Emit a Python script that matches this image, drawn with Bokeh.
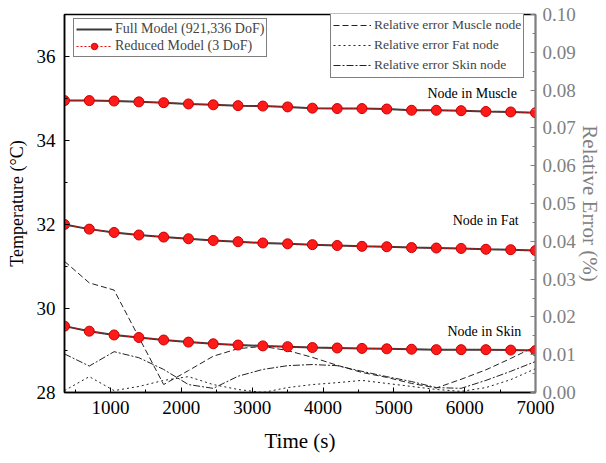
from bokeh.plotting import figure
from bokeh.models import (Range1d, LinearAxis, SingleIntervalTicker,
                          NumeralTickFormatter, Legend, LegendItem, Label)
from bokeh.embed import file_html
from bokeh.resources import INLINE

# ---------------- data ----------------
time_s = [350, 700, 1050, 1400, 1750, 2100, 2450, 2800, 3150, 3500,
          3850, 4200, 4550, 4900, 5250, 5600, 5950, 6300, 6650, 7000]

full_muscle = [34.95, 34.95, 34.94, 34.92, 34.90, 34.87, 34.85, 34.83, 34.82, 34.80,
               34.77, 34.76, 34.76, 34.75, 34.72, 34.72, 34.71, 34.69, 34.68, 34.66]
full_fat = [32.00, 31.89, 31.81, 31.75, 31.70, 31.66, 31.62, 31.59, 31.56, 31.54,
            31.52, 31.50, 31.48, 31.47, 31.45, 31.44, 31.43, 31.41, 31.40, 31.38]
full_skin = [29.58, 29.46, 29.37, 29.31, 29.25, 29.20, 29.16, 29.13, 29.11, 29.09,
             29.07, 29.06, 29.05, 29.04, 29.03, 29.02, 29.02, 29.02, 29.01, 29.00]

reduced_muscle = list(full_muscle)
reduced_fat = list(full_fat)
reduced_skin = list(full_skin)

err_muscle = [0.0347, 0.0290, 0.0271, 0.0146, 0.0021, 0.0058, 0.0096, 0.0116, 0.0122, 0.0111,
              0.0093, 0.0072, 0.0053, 0.0040, 0.0024, 0.0012, 0.0035, 0.0060, 0.0090, 0.0122]
err_fat = [0.0005, 0.0042, 0.0005, 0.0016, 0.0032, 0.0042, 0.0021, 0.0008, 0.0000, 0.0013,
           0.0021, 0.0026, 0.0032, 0.0024, 0.0016, 0.0008, 0.0003, 0.0013, 0.0034, 0.0063]
err_skin = [0.0102, 0.0070, 0.0108, 0.0092, 0.0061, 0.0021, 0.0011, 0.0043, 0.0061, 0.0071,
            0.0074, 0.0071, 0.0056, 0.0042, 0.0029, 0.0013, 0.0011, 0.0032, 0.0056, 0.0082]

node_labels = ["Node in Muscle", "Node in Fat", "Node in Skin"]
node_label_x = [5475, 5830, 5757]
node_label_y = [35.11, 32.09, 29.46]

FONT = "Liberation Serif"
GRAY = "#808080"

# ---------------- figure ----------------
p = figure(width=606, height=463, output_backend="svg", toolbar_location=None,
           x_range=Range1d(350, 7000), y_range=Range1d(28, 37),
           min_border_left=64, min_border_right=71, min_border_top=14, min_border_bottom=71,
           x_axis_label="Time (s)", y_axis_label="Temperature (°C)")
p.grid.visible = False
p.outline_line_color = "black"
p.outline_line_width = 1.5
p.background_fill_color = "white"
p.border_fill_color = "white"
p.extra_y_ranges = {"err": Range1d(0, 0.1)}


def style_axis(ax, color="black", label_size="21px"):
    ax.axis_line_color = color
    ax.axis_line_width = 1.5
    ax.major_tick_line_color = color
    ax.minor_tick_line_color = color
    ax.major_tick_in = 5
    ax.major_tick_out = 0
    ax.minor_tick_in = 3
    ax.minor_tick_out = 0
    ax.major_label_text_font = FONT
    ax.major_label_text_font_size = "19px"
    ax.major_label_text_color = color
    ax.axis_label_text_font = FONT
    ax.axis_label_text_font_size = label_size
    ax.axis_label_text_font_style = "normal"
    ax.axis_label_text_color = color


xax = p.xaxis[0]
xax.ticker = SingleIntervalTicker(interval=1000, num_minor_ticks=2)
style_axis(xax)
xax.major_label_standoff = 8
xax.axis_label_standoff = 12

yax = p.yaxis[0]
yax.ticker = SingleIntervalTicker(interval=2, num_minor_ticks=2)
style_axis(yax, label_size="18px")
yax.major_label_standoff = 9
yax.axis_label_standoff = 7

rax = LinearAxis(y_range_name="err", axis_label="Relative Error (%)",
                 ticker=SingleIntervalTicker(interval=0.01, num_minor_ticks=2),
                 formatter=NumeralTickFormatter(format="0.00"))
style_axis(rax, color=GRAY)
rax.major_label_standoff = 7
rax.axis_label_standoff = -1
p.add_layout(rax, "right")

# ---------------- error curves ----------------
e_m = p.line(time_s, err_muscle, y_range_name="err", line_color="#222222",
             line_width=1, line_dash="6 3")
e_f = p.line(time_s, err_fat, y_range_name="err", line_color="#222222",
             line_width=1, line_dash="2 3")
e_s = p.line(time_s, err_skin, y_range_name="err", line_color="#222222",
             line_width=1, line_dash="7 2 2 2")

# ---------------- temperature curves ----------------
full_renderers = []
red_lines = []
red_pts = []
for full, red in [(full_muscle, reduced_muscle), (full_fat, reduced_fat), (full_skin, reduced_skin)]:
    full_renderers.append(p.line(time_s, full, line_color="#3a3a3a", line_width=2))
    red_lines.append(p.line(time_s, red, line_color="red", line_width=1, line_dash="2 2"))
    red_pts.append(p.scatter(time_s, red, marker="circle", size=10,
                             fill_color="#ff1a1a", line_color="#c80000", line_width=1))

for txt, lx, ly in zip(node_labels, node_label_x, node_label_y):
    p.add_layout(Label(x=lx, y=ly, text=txt, text_font=FONT, text_font_size="14px",
                       text_baseline="middle", text_align="left", text_color="black"))

# ---------------- legends ----------------
leg1 = Legend(items=[LegendItem(label="Full Model (921,336 DoF)", renderers=[full_renderers[0]]),
                     LegendItem(label="Reduced Model (3 DoF)", renderers=[red_lines[0], red_pts[0]])],
              location=(9, 335))
leg2 = Legend(items=[LegendItem(label="Relative error Muscle node", renderers=[e_m]),
                     LegendItem(label="Relative error Fat node", renderers=[e_f]),
                     LegendItem(label="Relative error Skin node", renderers=[e_s])],
              location=(266, 314))
for lg, gw, lh, fs in [(leg1, 36, 16, "14px"), (leg2, 38, 20, "13.5px")]:
    lg.border_line_color = "black"
    lg.border_line_width = 1
    lg.background_fill_color = "white"
    lg.background_fill_alpha = 1
    lg.label_text_font = FONT
    lg.label_text_font_size = fs
    lg.glyph_width = gw
    lg.glyph_height = lh
    lg.label_height = lh
    lg.label_standoff = 3
    lg.padding = 2
    lg.spacing = 0 if lg is leg2 else 1
    lg.margin = 0
    p.add_layout(lg)

open("out.html", "w").write(file_html(p, INLINE))
